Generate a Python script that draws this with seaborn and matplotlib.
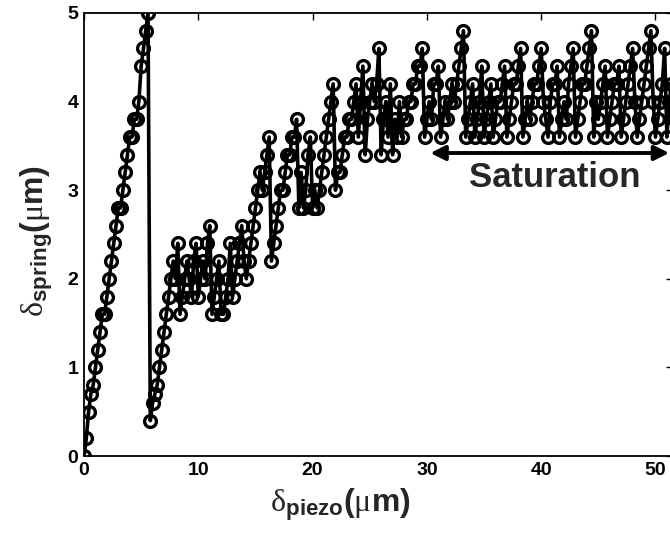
import numpy as np
import matplotlib
matplotlib.use("Agg")
import matplotlib.pyplot as plt
import seaborn as sns

sns.set_theme(style="white")
plt.rcParams['font.family'] = ['Liberation Sans', 'DejaVu Sans']
plt.rcParams['mathtext.fontset'] = 'custom'
plt.rcParams['mathtext.rm'] = 'Liberation Serif'
plt.rcParams['mathtext.it'] = 'Liberation Serif:italic'
plt.rcParams['mathtext.bf'] = 'Liberation Sans:bold'

# piezo step between samples (um)
x_step = 0.2

# spring deflection (um), one row = 10 samples = 2 um of piezo travel
spring = [
    0.0, 0.2, 0.5, 0.7, 0.8, 1.0, 1.2, 1.4, 1.6, 1.6,   # 0 - 1.8
    1.8, 2.0, 2.2, 2.4, 2.6, 2.8, 2.8, 3.0, 3.2, 3.4,   # 2 - 3.8
    3.6, 3.6, 3.8, 3.8, 4.0, 4.4, 4.6, 4.8, 5.0, 0.4,   # 4 - 5.8
    0.6, 0.7, 0.8, 1.0, 1.2, 1.4, 1.6, 1.8, 2.0, 2.2,   # 6 - 7.8
    2.0, 2.4, 1.6, 1.8, 2.0, 2.2, 2.0, 1.8, 2.2, 2.4,   # 8
    1.8, 2.0, 2.2, 2.0, 2.4, 2.6, 1.6, 1.8, 2.0, 2.2,   # 10
    1.6, 1.6, 1.8, 2.0, 2.4, 1.8, 2.0, 2.2, 2.4, 2.6,   # 12
    2.2, 2.0, 2.2, 2.4, 2.6, 2.8, 3.0, 3.2, 3.0, 3.2,   # 14
    3.4, 3.6, 2.2, 2.4, 2.6, 2.8, 3.0, 3.0, 3.2, 3.4,   # 16
    3.4, 3.6, 3.6, 3.8, 2.8, 3.2, 2.8, 3.0, 3.4, 3.6,   # 18
    2.8, 3.0, 2.8, 3.0, 3.2, 3.4, 3.6, 3.8, 4.0, 4.2,   # 20
    3.0, 3.2, 3.2, 3.4, 3.6, 3.6, 3.8, 3.8, 4.0, 4.2,   # 22
    3.6, 4.0, 4.4, 3.4, 3.8, 4.0, 4.2, 4.0, 4.2, 4.6,   # 24
    3.4, 3.8, 4.0, 3.6, 4.2, 3.4, 3.8, 3.6, 4.0, 3.6,   # 26
    3.8, 3.8, 4.0, 4.0, 4.2, 4.2, 4.4, 4.4, 4.6, 3.6,   # 28
    3.8, 4.0, 3.8, 4.2, 4.2, 4.4, 3.6, 3.8, 4.0, 3.8,   # 30
    4.0, 4.2, 4.0, 4.2, 4.4, 4.6, 4.8, 3.6, 3.8, 4.0,   # 32
    4.2, 3.6, 3.8, 4.0, 4.4, 3.6, 3.8, 4.0, 4.2, 3.6,   # 34
    3.8, 4.0, 4.0, 4.2, 4.4, 3.6, 3.8, 4.0, 4.2, 4.2,   # 36
    4.4, 4.6, 3.6, 3.8, 4.0, 3.8, 4.0, 4.2, 4.2, 4.4,   # 38
    4.6, 4.0, 3.8, 3.6, 4.0, 4.2, 4.2, 4.4, 3.6, 3.8,   # 40
    4.0, 3.8, 4.2, 4.4, 4.6, 3.6, 3.8, 4.0, 4.2, 4.2,   # 42
    4.4, 4.6, 4.8, 3.6, 4.0, 3.8, 4.0, 4.2, 4.4, 3.6,   # 44
    3.8, 4.0, 4.2, 4.2, 4.4, 3.6, 3.8, 4.0, 4.2, 4.4,   # 46
    4.6, 4.0, 3.6, 3.8, 4.0, 4.2, 4.4, 4.6, 4.8, 4.0,   # 48
    3.6, 3.8, 4.0, 4.2, 4.6, 3.6, 4.0, 4.2, 3.8, 4.0,   # 50
]
piezo = np.arange(len(spring)) * x_step

x_ticks = [0, 10, 20, 30, 40, 50]
y_ticks = [0, 1, 2, 3, 4, 5]

fig = plt.figure(figsize=(6.7, 5.37), dpi=100)
ax = fig.add_axes([0.1254, 0.1508, 0.8785, 0.8250])

sns.lineplot(x=piezo, y=spring, ax=ax, color="black", linewidth=2.6,
             marker="o", markersize=8.5, markerfacecolor="none",
             markeredgecolor="black", markeredgewidth=2.4,
             estimator=None, sort=False)

ax.set_xlim(0, 51.5)
ax.set_ylim(0, 5)
ax.set_xticks(x_ticks)
ax.set_yticks(y_ticks)
ax.set_xticklabels([str(t) for t in x_ticks], fontsize=14, fontweight="bold")
ax.set_yticklabels([str(t) for t in y_ticks], fontsize=14, fontweight="bold")
ax.tick_params(direction="in", length=5, width=1, top=True, right=True,
               pad=4, colors="black")
for s in ax.spines.values():
    s.set_color("black")
    s.set_linewidth(1.3)

ax.set_xlabel(r"$\mathrm{\delta}_{\mathbf{piezo}}$($\mathrm{\mu}$m)",
              fontsize=23, fontweight="bold")
ax.set_ylabel(r"$\mathrm{\delta}_{\mathbf{spring}}$($\mathrm{\mu}$m)",
              fontsize=23, fontweight="bold")
ax.xaxis.set_label_coords(0.435, -0.068)
ax.yaxis.set_label_coords(-0.05, 0.485)

# saturation marker
ax.annotate("", xy=(30.3, 3.42), xytext=(51.2, 3.42),
            arrowprops=dict(arrowstyle="<|-|>", color="black", lw=2.8,
                            mutation_scale=22, shrinkA=0, shrinkB=0))
ax.text(41.2, 3.14, "Saturation", fontsize=25, fontweight="bold",
        ha="center", va="center")

fig.savefig("out.png", dpi=100)
